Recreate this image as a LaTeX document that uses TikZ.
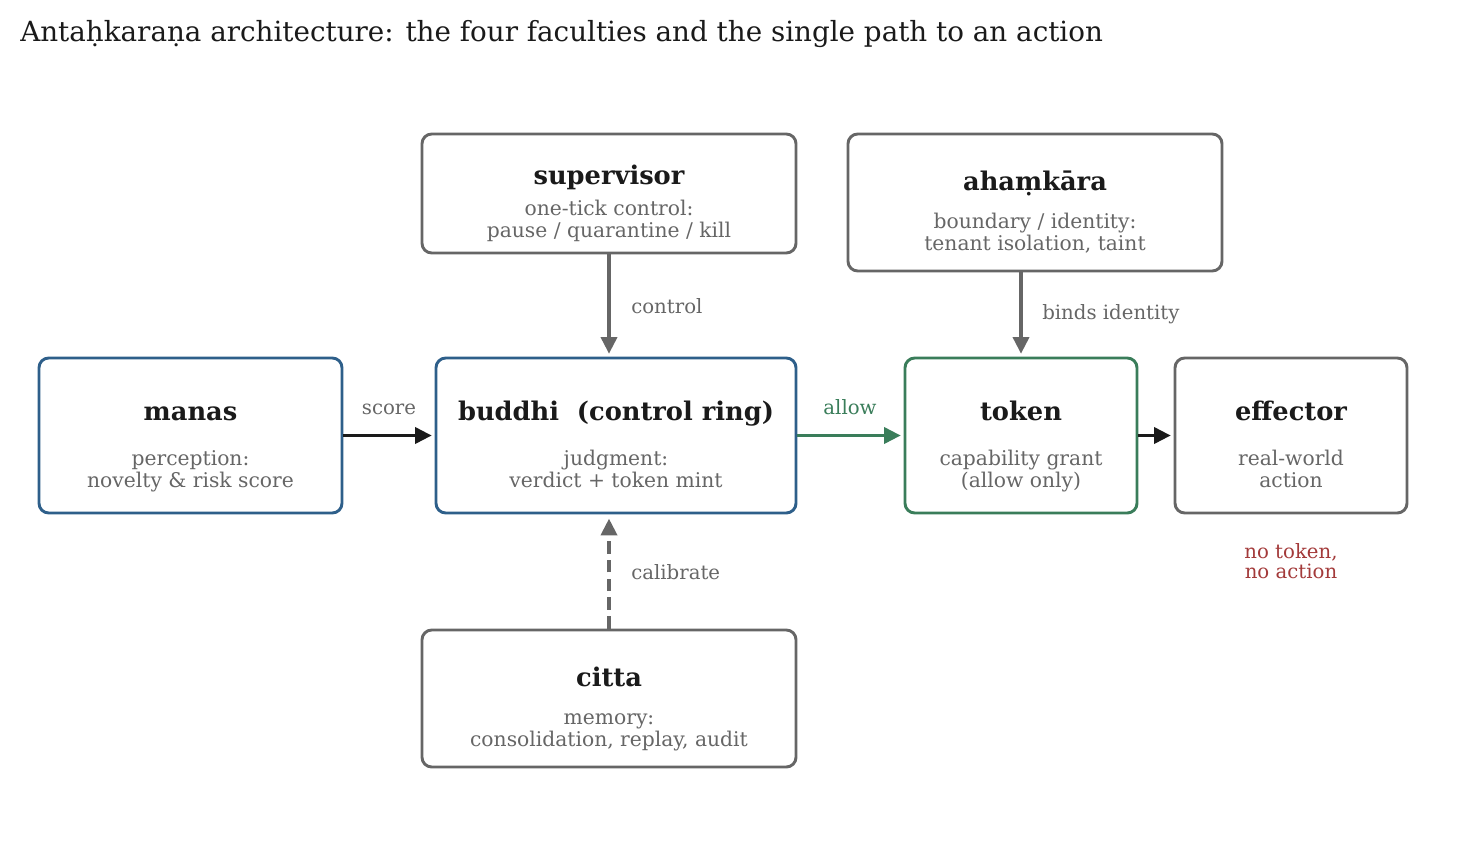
\documentclass[tikz,border=0pt]{standalone}
\usepackage{fontspec}
\setmainfont{DejaVu Serif}
\usetikzlibrary{arrows.meta}
\definecolor{ink}{HTML}{1A1A1A}
\definecolor{subc}{HTML}{666666}
\definecolor{bblue}{HTML}{2E5F8A}
\definecolor{bgreen}{HTML}{3A7D5A}
\definecolor{bgray}{HTML}{666666}
\definecolor{nred}{HTML}{A33A3A}
\begin{document}
\begin{tikzpicture}[x=0.72pt,y=-0.72pt,
  box/.style={draw=#1, line width=2.1pt, rounded corners=7pt, fill=white, inner sep=0pt},
  ttl/.style={font=\fontsize{18.5}{22}\selectfont\bfseries, text=ink, inner sep=0pt, anchor=base},
  subt/.style={font=\fontsize{14.6}{15.8}\selectfont, text=subc, inner sep=0pt, anchor=base, align=center},
  elab/.style={font=\fontsize{14.2}{17}\selectfont, text=#1, inner sep=0pt, anchor=base},
  arr/.style={draw=#1, line width=2.6pt, -{Triangle[length=12pt,width=11.5pt]}, shorten >=2pt}
]
\useasboundingbox (0,0) rectangle (1460,840);

\node[font=\fontsize{20}{24}\selectfont, text=ink, inner sep=0pt, anchor=base west] (title) at (20,42)
  {Antaḥkaraṇa architecture: the four faculties and the single path to an action};

% boxes
\node[box=bgray, minimum width=374*0.72pt, minimum height=119*0.72pt] (sup) at (609,193.5) {};
\node[box=bgray, minimum width=374*0.72pt, minimum height=137*0.72pt] (aham) at (1035,202.5) {};
\node[box=bblue, minimum width=303*0.72pt, minimum height=155*0.72pt] (man) at (190.5,435.5) {};
\node[box=bblue, minimum width=360*0.72pt, minimum height=155*0.72pt] (bud) at (616,435.5) {};
\node[box=bgreen, minimum width=232*0.72pt, minimum height=155*0.72pt] (tok) at (1021,435.5) {};
\node[box=bgray, minimum width=232*0.72pt, minimum height=155*0.72pt] (eff) at (1291,435.5) {};
\node[box=bgray, minimum width=374*0.72pt, minimum height=137*0.72pt] (cit) at (609,698.5) {};

% texts (subtitle anchor = baseline of last line)
\node[ttl] (supT) at (609,184) {supervisor};
\node[subt] (supS) at (609,237) {one-tick control:\\pause / quarantine / kill};
\node[ttl] (ahamT) at (1035,190) {ahaṃkāra};
\node[subt] (ahamS) at (1035,250) {boundary / identity:\\tenant isolation, taint};
\node[ttl] (manT) at (190.5,420) {manas};
\node[subt] (manS) at (190.5,487) {perception:\\novelty \& risk score};
\node[ttl] (budT) at (616,420) {buddhi\ \ (control ring)};
\node[subt] (budS) at (616,487) {judgment:\\verdict + token mint};
\node[ttl] (tokT) at (1021,420) {token};
\node[subt] (tokS) at (1021,487) {capability grant\\(allow only)};
\node[ttl] (effT) at (1291,420) {effector};
\node[subt] (effS) at (1291,487) {real-world\\action};
\node[ttl] (citT) at (609,686) {citta};
\node[subt] (citS) at (609,746) {memory:\\consolidation, replay, audit};

% connectors
\draw[arr=bgray] (sup.south) -- (sup.south |- bud.north);
\draw[arr=bgray] (tok.north |- aham.south) -- (tok.north);
\draw[arr=ink] (man.east) -- (bud.west);
\draw[arr=bgreen] (bud.east) -- (tok.west);
\draw[arr=ink] (tok.east) -- (eff.west);
\draw[arr=bgray, dash pattern=on 9pt off 4.5pt, shorten >=3pt] (cit.north) -- (cit.north |- bud.south);

% edge labels
\node[elab=subc, anchor=base west] (lcontrol) at (631,313) {control};
\node[elab=subc, anchor=base west] (lbinds) at (1042,319) {binds identity};
\node[elab=subc] (lscore) at (389,414) {score};
\node[elab=bgreen] (lallow) at (850,414) {allow};
\node[elab=subc, anchor=base west] (lcal) at (631,579) {calibrate};
\node[font=\fontsize{14.2}{14.4}\selectfont, text=nred, inner sep=0pt, anchor=base, align=center] (nota) at (1291,578) {no token,\\no action};
\end{tikzpicture}
\end{document}
